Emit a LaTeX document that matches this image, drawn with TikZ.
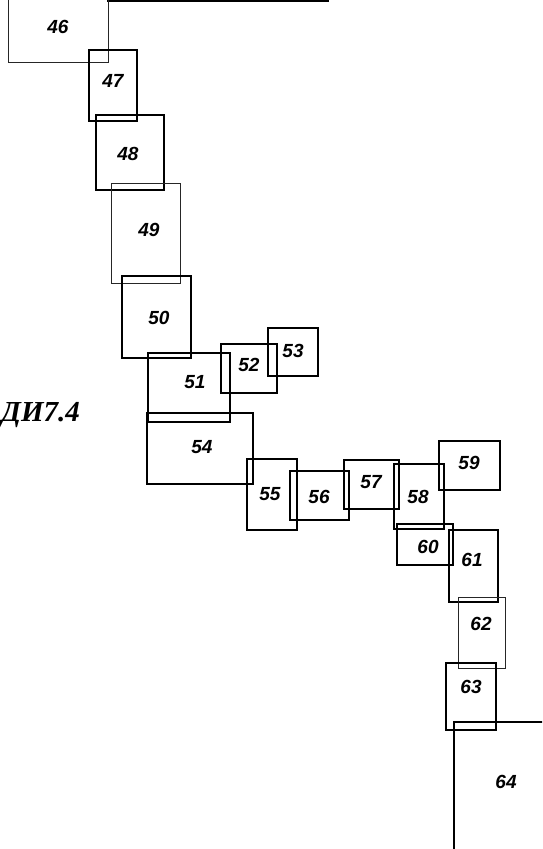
\documentclass[tikz,border=0pt]{standalone}
\usepackage{fontspec}
\setmainfont{Liberation Sans}
\newfontfamily\titlefont{Liberation Serif}
\begin{document}
\begin{tikzpicture}[x=1pt,y=-1pt,
  box/.style={draw=black,line width=1.5pt},
  thinbox/.style={draw=black!85,line width=1pt},
  num/.style={font=\fontsize{19}{19}\selectfont\bfseries\itshape,inner sep=0pt}]
\useasboundingbox (0,0) rectangle (542,849);
\clip (0,0) rectangle (542,849);
% boxes
\draw[box] (108,-40) rectangle (328,1) coordinate (b45);
\draw[thinbox] (8,-40) rectangle (108,62) coordinate (b46);
\draw[box] (89,50) rectangle (137,121) coordinate (b47);
\draw[box] (96,115) rectangle (164,190) coordinate (b48);
\draw[thinbox] (111,183) rectangle (180,283) coordinate (b49);
\draw[box] (122,276) rectangle (191,358) coordinate (b50);
\draw[box] (148,353) rectangle (230,422) coordinate (b51);
\draw[box] (221,344) rectangle (277,393) coordinate (b52);
\draw[box] (268,328) rectangle (318,376) coordinate (b53);
\draw[box] (147,413) rectangle (253,484) coordinate (b54);
\draw[box] (247,459) rectangle (297,530) coordinate (b55);
\draw[box] (290,471) rectangle (349,520) coordinate (b56);
\draw[box] (344,460) rectangle (399,509) coordinate (b57);
\draw[box] (394,464) rectangle (444,529) coordinate (b58);
\draw[box] (439,441) rectangle (500,490) coordinate (b59);
\draw[box] (397,524) rectangle (453,565) coordinate (b60);
\draw[box] (449,530) rectangle (498,602) coordinate (b61);
\draw[thinbox] (458,597) rectangle (505,668) coordinate (b62);
\draw[box] (446,663) rectangle (496,730) coordinate (b63);
\draw[box] (454,722) rectangle (600,900) coordinate (b64);
% labels
\node[num] (l46) at (58,27) {46};
\node[num] (l47) at (113,81) {47};
\node[num] (l48) at (128,154) {48};
\node[num] (l49) at (149,230) {49};
\node[num] (l50) at (159,318) {50};
\node[num] (l51) at (195,382) {51};
\node[num] (l52) at (249,365) {52};
\node[num] (l53) at (293,351) {53};
\node[num] (l54) at (202,447) {54};
\node[num] (l55) at (270,494) {55};
\node[num] (l56) at (319,497) {56};
\node[num] (l57) at (371,482) {57};
\node[num] (l58) at (418,497) {58};
\node[num] (l59) at (469,463) {59};
\node[num] (l60) at (428,547) {60};
\node[num] (l61) at (472,560) {61};
\node[num] (l62) at (481,624) {62};
\node[num] (l63) at (471,687) {63};
\node[num] (l64) at (506,782) {64};
\node[font=\titlefont\fontsize{29}{29}\selectfont\bfseries\itshape,anchor=base west,inner sep=0pt] (title) at (1,421) {ДИ7.4};
\end{tikzpicture}
\end{document}
